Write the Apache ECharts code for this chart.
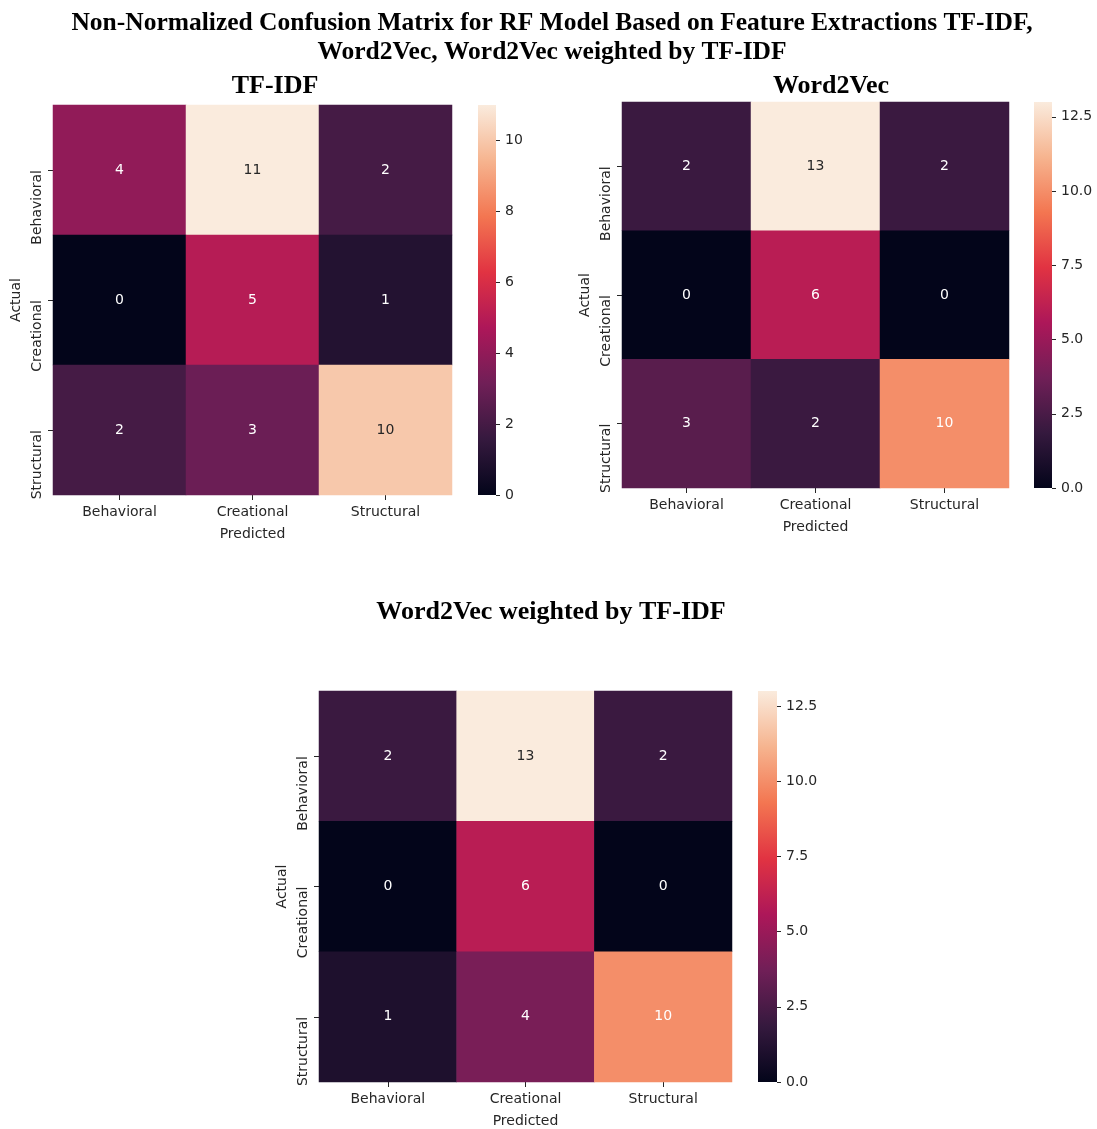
<!DOCTYPE html>
<html>
<head>
<meta charset="utf-8">
<title>Confusion matrices</title>
<script src="https://cdn.jsdelivr.net/npm/echarts@6/dist/echarts.min.js"></script>
<style>
  html, body { margin: 0; padding: 0; background: #ffffff; }
  #chart { width: 1097px; height: 1129px; }
</style>
</head>
<body>
<div id="chart"></div>
<script>
// Class labels shared by both axes of every matrix
const categories = ['Behavioral', 'Creational', 'Structural'];

// Rows = actual class, columns = predicted class
const tfidfValues = [
  [4, 11, 2],
  [0, 5, 1],
  [2, 3, 10]
];
const word2vecValues = [
  [2, 13, 2],
  [0, 6, 0],
  [3, 2, 10]
];
const weightedValues = [
  [2, 13, 2],
  [0, 6, 0],
  [1, 4, 10]
];

// Colour-bar ranges and tick steps
const tfidfScale = { max: 11, interval: 2 };
const word2vecScale = { max: 13, interval: 2.5 };
const weightedScale = { max: 13, interval: 2.5 };

// Titles
const mainTitle = 'Non-Normalized Confusion Matrix for RF Model Based on Feature Extractions TF-IDF,\nWord2Vec, Word2Vec weighted by TF-IDF';
const panelTitles = ['TF-IDF', 'Word2Vec', 'Word2Vec weighted by TF-IDF'];

// "rocket" sequential palette, evenly spaced stops
const rocket = ['#03051a', '#35193e', '#701f57', '#ad1759', '#e13342', '#f37651', '#f6b48f', '#faebdd'];

const INK = '#262626';
const TICK_FONT = 'DejaVu Sans';
const TITLE_STYLE = {
  fontFamily: 'Liberation Serif', fontWeight: 'bold', fontSize: 26,
  lineHeight: 29, color: '#000000'
};

function luminance(colorStr) {
  const c = echarts.color.parse(colorStr);
  const lin = c.slice(0, 3).map(function (v) {
    v = v / 255;
    return v <= 0.03928 ? v / 12.92 : Math.pow((v + 0.055) / 1.055, 2.4);
  });
  return 0.2126 * lin[0] + 0.7152 * lin[1] + 0.0722 * lin[2];
}

function cellData(matrix, vmax) {
  const out = [];
  matrix.forEach(function (row, r) {
    row.forEach(function (v, c) {
      const fill = echarts.color.lerp(v / vmax, rocket);
      out.push({
        value: [c, r, v],
        label: { color: luminance(fill) > 0.408 ? INK : '#ffffff' }
      });
    });
  });
  return out;
}

// Panel layouts (heatmap box and colour-bar box)
const panels = [
  { values: tfidfValues, scale: tfidfScale,
    grid: { left: 53, top: 105, width: 399, height: 390 },
    bar: { left: 478, top: 105, width: 18, height: 390 },
    title: { cx: 270, top: 67 } },
  { values: word2vecValues, scale: word2vecScale,
    grid: { left: 622, top: 102, width: 387, height: 386 },
    bar: { left: 1034, top: 102, width: 18, height: 386 },
    title: { cx: 826, top: 67 } },
  { values: weightedValues, scale: weightedScale,
    grid: { left: 319, top: 691, width: 413, height: 391 },
    bar: { left: 758, top: 691, width: 19, height: 391 },
    title: { cx: 546, top: 593 } }
];

const grids = [], xAxes = [], yAxes = [], series = [], visualMaps = [], titles = [];

titles.push({
  text: mainTitle,
  left: 547,
  top: 4,
  textAlign: 'center',
  textStyle: Object.assign({}, TITLE_STYLE, { fontSize: 25.5 })
});

panels.forEach(function (p, i) {
  const vmax = p.scale.max;
  const isDecimal = p.scale.interval % 1 !== 0;

  titles.push({
    text: panelTitles[i],
    left: p.title.cx,
    top: p.title.top,
    textAlign: 'center',
    textStyle: TITLE_STYLE
  });

  // heatmap grid
  const hg = grids.length;
  grids.push(Object.assign({ containLabel: false }, p.grid));
  xAxes.push({
    type: 'category', gridIndex: hg, data: categories,
    name: 'Predicted', nameLocation: 'middle', nameGap: 32,
    nameTextStyle: { fontFamily: TICK_FONT, fontSize: 14, color: INK },
    axisLine: { show: false },
    axisTick: { show: true, alignWithLabel: true, length: 5, lineStyle: { color: INK } },
    axisLabel: { fontFamily: TICK_FONT, fontSize: 14, color: INK, margin: 10 },
    splitLine: { show: false }
  });
  yAxes.push({
    type: 'category', gridIndex: hg, data: categories, inverse: true,
    name: 'Actual', nameLocation: 'middle', nameGap: 30,
    nameTextStyle: { fontFamily: TICK_FONT, fontSize: 14, color: INK },
    axisLine: { show: false },
    axisTick: { show: true, alignWithLabel: true, length: 5, lineStyle: { color: INK } },
    axisLabel: {
      fontFamily: TICK_FONT, fontSize: 14, color: INK, rotate: 90, margin: 9,
      align: 'right', verticalAlign: 'bottom'
    },
    splitLine: { show: false }
  });
  const hs = series.length;
  series.push({
    type: 'heatmap', xAxisIndex: xAxes.length - 1, yAxisIndex: yAxes.length - 1,
    data: cellData(p.values, vmax),
    label: { show: true, fontFamily: TICK_FONT, fontSize: 14,
      formatter: function (d) { return String(d.value[2]); } },
    itemStyle: { borderWidth: 0 },
    emphasis: { disabled: true }
  });
  visualMaps.push({
    type: 'continuous', show: false, min: 0, max: vmax, dimension: 2,
    seriesIndex: hs, inRange: { color: rocket }
  });

  // colour bar drawn as a single full-height bar on a value axis
  const cg = grids.length;
  grids.push(Object.assign({ containLabel: false }, p.bar));
  xAxes.push({
    type: 'category', gridIndex: cg, data: [''],
    axisLine: { show: false }, axisTick: { show: false }, axisLabel: { show: false }
  });
  yAxes.push({
    type: 'value', gridIndex: cg, position: 'right', min: 0, max: vmax,
    interval: p.scale.interval,
    axisLine: { show: false },
    axisTick: { show: true, length: 4, lineStyle: { color: INK } },
    axisLabel: {
      fontFamily: TICK_FONT, fontSize: 14, color: INK, margin: 9,
      showMaxLabel: false,
      formatter: function (v) { return isDecimal ? v.toFixed(1) : String(v); }
    },
    splitLine: { show: false }
  });
  const stops = rocket.map(function (c, k) {
    return { offset: k / (rocket.length - 1), color: c };
  });
  series.push({
    type: 'bar', xAxisIndex: xAxes.length - 1, yAxisIndex: yAxes.length - 1,
    data: [vmax], barWidth: '100%', silent: true,
    itemStyle: { color: new echarts.graphic.LinearGradient(0, 1, 0, 0, stops) }
  });
});

const chart = echarts.init(document.getElementById('chart'), null, { renderer: 'canvas' });
chart.setOption({
  animation: false,
  backgroundColor: '#ffffff',
  title: titles,
  grid: grids,
  xAxis: xAxes,
  yAxis: yAxes,
  visualMap: visualMaps,
  series: series
});
</script>
</body>
</html>
